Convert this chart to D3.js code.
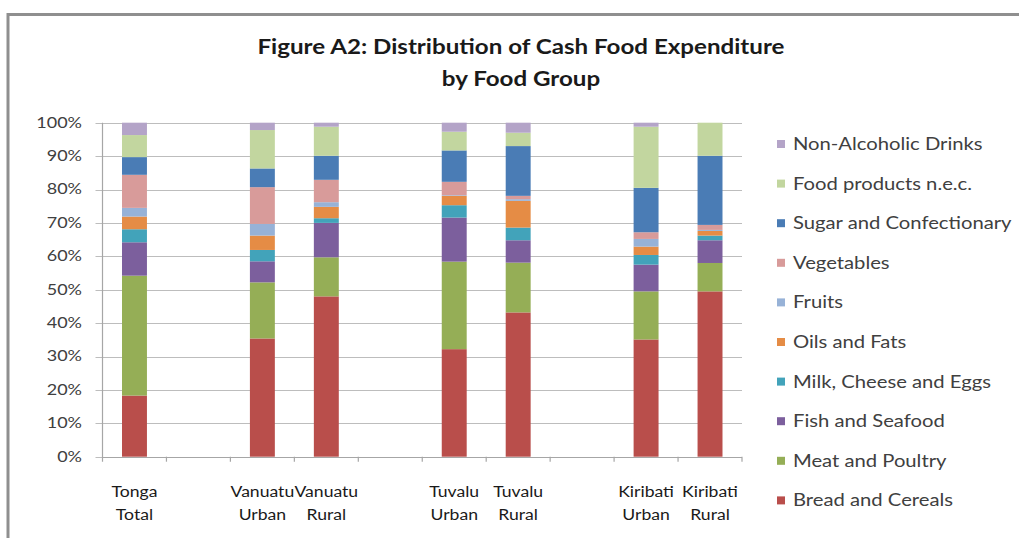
<!DOCTYPE html>
<html>
<head>
<meta charset="utf-8">
<script src="https://cdn.jsdelivr.net/npm/d3@7"></script>
<style>
  body { margin: 0; background: #fff; }
  svg { display: block; font-family: Lato, "Open Sans", sans-serif; }
</style>
</head>
<body>
<svg id="chart" width="1019" height="538"></svg>
<script>
// slots on the x axis (gaps are empty slots, like the blank columns in the sheet)
const slots = ["Tonga Total", "gap1", "Vanuatu Urban", "Vanuatu Rural", "gap2",
               "Tuvalu Urban", "Tuvalu Rural", "gap3", "Kiribati Urban", "Kiribati Rural"];
const categories = ["Tonga Total", "Vanuatu Urban", "Vanuatu Rural",
                    "Tuvalu Urban", "Tuvalu Rural", "Kiribati Urban", "Kiribati Rural"];

// food groups, bottom of stack first
const groups = ["Bread and Cereals", "Meat and Poultry", "Fish and Seafood",
                "Milk, Cheese and Eggs", "Oils and Fats", "Fruits", "Vegetables",
                "Sugar and Confectionary", "Food products n.e.c.", "Non-Alcoholic Drinks"];
const colors = ["#b94e4b", "#95ae56", "#7c5f9d", "#42a3ba", "#e58c45",
                "#97b2d7", "#d89b9a", "#4a7cb5", "#c2d69f", "#b4a4c8"];

// % shares, one value per category
const bread  = [18.3, 35.4, 48.0, 32.2, 43.2, 35.1, 49.5];
const meat   = [35.9, 16.8, 11.7, 26.2, 14.9, 14.4, 8.5];
const fish   = [10.0, 6.3, 10.3, 13.2, 6.7, 8.0, 6.8];
const milk   = [3.9, 3.4, 1.4, 3.7, 3.8, 2.9, 1.4];
const oils   = [3.8, 4.3, 3.4, 2.8, 8.0, 2.5, 1.4];
const fruits = [2.6, 3.5, 1.4, 0.2, 0.5, 2.3, 0.3];
const veg    = [9.9, 11.0, 6.7, 4.0, 1.0, 2.0, 1.5];
const sugar  = [5.3, 5.6, 7.2, 9.4, 14.9, 13.3, 20.7];
const nec    = [6.6, 11.5, 8.7, 5.6, 4.0, 18.3, 9.9];
const drinks = [3.7, 2.2, 1.2, 2.7, 3.0, 1.2, 0.0];

const yTicks = [0, .1, .2, .3, .4, .5, .6, .7, .8, .9, 1];

const series = [bread, meat, fish, milk, oils, fruits, veg, sugar, nec, drinks];

// rows for d3.stack
const rows = categories.map(function(c, i) {
  let r = { cat: c };
  groups.forEach(function(g, j) { r[g] = series[j][i]; });
  return r;
});

const svg = d3.select("#chart");

// the source picture is a bit wider than tall, so text gets stretched sideways
function stretch(sx, cx) {
  return "matrix(" + sx + ",0,0,1," + (cx * (1 - sx)) + ",0)";
}

// outer frame
svg.append("rect")
  .attr("x", 8).attr("y", 14.5)
  .attr("width", 1100).attr("height", 600)
  .attr("fill", "none")
  .attr("stroke", "#8f8f8f")
  .attr("stroke-width", 3);

// title
svg.append("text")
  .attr("x", 521).attr("y", 54)
  .attr("text-anchor", "middle")
  .attr("transform", stretch(1.15, 521))
  .attr("font-size", 21).attr("font-weight", "bold").attr("fill", "#1a1a1a")
  .text("Figure A2: Distribution of Cash Food Expenditure");
svg.append("text")
  .attr("x", 521).attr("y", 86)
  .attr("text-anchor", "middle")
  .attr("transform", stretch(1.15, 521))
  .attr("font-size", 21).attr("font-weight", "bold").attr("fill", "#1a1a1a")
  .text("by Food Group");

const plotL = 102.5, plotR = 742, plotT = 122.7, plotB = 456.7;

const x = d3.scaleBand().domain(slots).range([plotL, plotR]).paddingInner(0.61).paddingOuter(0.305);
const xSlot = d3.scaleBand().domain(slots).range([plotL, plotR]);
const y = d3.scaleLinear().domain([0, 1]).range([plotB, plotT]);

// gridlines
svg.append("g")
  .selectAll("line")
  .data(yTicks)
  .join("line")
  .attr("x1", plotL - 7).attr("x2", plotR)
  .attr("y1", d => Math.round(y(d)) + 0.5).attr("y2", d => Math.round(y(d)) + 0.5)
  .attr("stroke", "#bdbdbd").attr("stroke-width", 1.2);

// y labels
svg.append("g")
  .selectAll("text")
  .data(yTicks)
  .join("text")
  .attr("x", 82).attr("y", d => y(d) + 5)
  .attr("text-anchor", "end")
  .attr("transform", stretch(1.2, 82))
  .attr("font-size", 15).attr("fill", "#404040")
  .text(d3.format(".0%"));

// stacked bars
const stack = d3.stack().keys(groups).offset(d3.stackOffsetExpand);
const layers = stack(rows);

svg.append("g")
  .selectAll("g")
  .data(layers)
  .join("g")
  .attr("fill", (d, i) => colors[i])
  .selectAll("rect")
  .data(d => d)
  .join("rect")
  .attr("x", d => x(d.data.cat))
  .attr("width", x.bandwidth())
  .attr("y", d => y(d[1]))
  .attr("height", d => y(d[0]) - y(d[1]));

// y axis line
svg.append("line")
  .attr("x1", plotL).attr("x2", plotL)
  .attr("y1", plotT).attr("y2", plotB + 5)
  .attr("stroke", "#a6a6a6").attr("stroke-width", 1.2);

// x axis line + ticks between slots
svg.append("line")
  .attr("x1", plotL).attr("x2", plotR)
  .attr("y1", Math.round(plotB) + 0.5).attr("y2", Math.round(plotB) + 0.5)
  .attr("stroke", "#a6a6a6").attr("stroke-width", 1.2);
svg.append("g")
  .selectAll("line")
  .data(slots)
  .join("line")
  .attr("x1", d => xSlot(d) + xSlot.bandwidth()).attr("x2", d => xSlot(d) + xSlot.bandwidth())
  .attr("y1", plotB).attr("y2", plotB + 5)
  .attr("stroke", "#a6a6a6").attr("stroke-width", 1.2);

// category labels, two lines each
const xl = svg.append("g")
  .selectAll("text")
  .data(categories)
  .join("text")
  .attr("text-anchor", "middle")
  .attr("transform", d => stretch(1.1, x(d) + x.bandwidth() / 2))
  .attr("font-size", 16).attr("fill", "#1a1a1a");
xl.append("tspan")
  .attr("x", d => x(d) + x.bandwidth() / 2).attr("y", 497)
  .text(d => d.split(" ")[0]);
xl.append("tspan")
  .attr("x", d => x(d) + x.bandwidth() / 2).attr("y", 520)
  .text(d => d.split(" ")[1]);

// legend, top entry is last group
const legend = svg.append("g")
  .selectAll("g")
  .data(groups.slice().reverse())
  .join("g")
  .attr("transform", (d, i) => "translate(777," + (144 + i * 39.6) + ")");
legend.append("rect")
  .attr("x", 0).attr("y", -4).attr("width", 8).attr("height", 8)
  .attr("fill", d => colors[groups.indexOf(d)]);
legend.append("text")
  .attr("x", 16).attr("y", 6)
  .attr("transform", stretch(1.19, 16))
  .attr("font-size", 17).attr("fill", "#404040")
  .text(d => d);
</script>
</body>
</html>
